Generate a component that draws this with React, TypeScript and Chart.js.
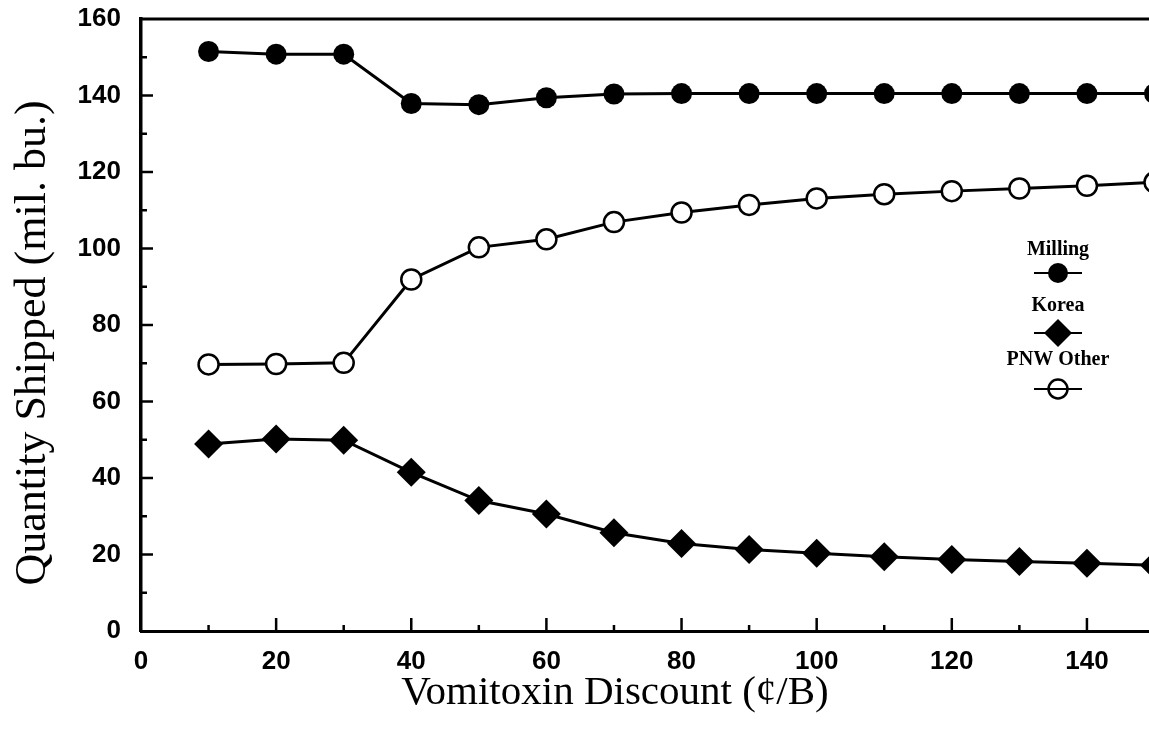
import React, { useEffect, useRef } from "react";
import { Chart, registerables } from "chart.js";

Chart.register(...registerables);

// ---- data ----
const discounts = [10, 20, 30, 40, 50, 60, 70, 80, 90, 100, 110, 120, 130, 140, 150];
const milling = [151.5, 150.8, 150.8, 137.9, 137.6, 139.4, 140.4, 140.5, 140.5, 140.5, 140.5, 140.5, 140.5, 140.5, 140.5];
const korea = [48.9, 50.2, 49.9, 41.5, 34.1, 30.6, 25.7, 22.9, 21.3, 20.3, 19.4, 18.7, 18.2, 17.7, 17.2];
const pnwOther = [69.7, 69.8, 70.1, 91.9, 100.3, 102.4, 106.9, 109.4, 111.4, 113.1, 114.2, 115.0, 115.7, 116.4, 117.3];

const seriesNames = ["Milling", "Korea", "PNW Other"];
const xTickLabels = [0, 20, 40, 60, 80, 100, 120, 140];
const xMinorTicks = [10, 30, 50, 70, 90, 110, 130];
const yTickLabels = [0, 20, 40, 60, 80, 100, 120, 140, 160];
const yMinorTicks = [10, 30, 50, 70, 90, 110, 130, 150];

const xTitle = "Vomitoxin Discount (¢/B)";
const yTitle = "Quantity Shipped (mil. bu.)";

const CANVAS_W = 1169;
const CANVAS_H = 730;

const decorPlugin = {
  id: "decor",
  afterDraw(chart: any) {
    const { ctx, chartArea: ca, scales } = chart;
    const xs = scales.x;
    const ys = scales.y;
    ctx.save();
    ctx.strokeStyle = "#000";
    ctx.fillStyle = "#000";
    // top frame line
    ctx.lineWidth = 3;
    ctx.beginPath();
    ctx.moveTo(ca.left - 1.5, ca.top);
    ctx.lineTo(CANVAS_W, ca.top);
    ctx.stroke();

    // inward ticks
    ctx.lineWidth = 2.5;
    const yTick = (v: number, len: number) => {
      const p = ys.getPixelForValue(v);
      ctx.beginPath();
      ctx.moveTo(ca.left, p);
      ctx.lineTo(ca.left + len, p);
      ctx.stroke();
    };
    const xTick = (v: number, len: number) => {
      const p = xs.getPixelForValue(v);
      ctx.beginPath();
      ctx.moveTo(p, ca.bottom);
      ctx.lineTo(p, ca.bottom - len);
      ctx.stroke();
    };
    yTickLabels.forEach((v) => v > 0 && v < 160 && yTick(v, 12));
    yMinorTicks.forEach((v) => yTick(v, 6));
    xTickLabels.forEach((v) => v > 0 && xTick(v, 13));
    xMinorTicks.forEach((v) => xTick(v, 6));

    // axis titles
    ctx.textAlign = "center";
    ctx.textBaseline = "middle";
    ctx.font = '41px "Liberation Serif", "Times New Roman", serif';
    ctx.fillText(xTitle, 615, 693);
    ctx.save();
    ctx.translate(33, 343);
    ctx.rotate(-Math.PI / 2);
    ctx.font = '44px "Liberation Serif", "Times New Roman", serif';
    ctx.fillText(yTitle, 0, 0);
    ctx.restore();

    // legend
    const cx = 1058;
    const rows = [
      { label: seriesNames[0], ty: 250, my: 273, style: "filled" },
      { label: seriesNames[1], ty: 306, my: 333, style: "diamond" },
      { label: seriesNames[2], ty: 360, my: 389, style: "open" },
    ];
    ctx.font = 'bold 20px "Liberation Serif", "Times New Roman", serif';
    rows.forEach((r) => {
      ctx.fillStyle = "#000";
      ctx.fillText(r.label, cx, r.ty);
      ctx.lineWidth = 2;
      ctx.beginPath();
      ctx.moveTo(cx - 24, r.my);
      ctx.lineTo(cx + 24, r.my);
      ctx.stroke();
      if (r.style === "filled") {
        ctx.beginPath();
        ctx.arc(cx, r.my, 10, 0, Math.PI * 2);
        ctx.fill();
      } else if (r.style === "diamond") {
        ctx.beginPath();
        ctx.moveTo(cx - 14, r.my);
        ctx.lineTo(cx, r.my - 14);
        ctx.lineTo(cx + 14, r.my);
        ctx.lineTo(cx, r.my + 14);
        ctx.closePath();
        ctx.fill();
      } else {
        ctx.beginPath();
        ctx.arc(cx, r.my, 9.5, 0, Math.PI * 2);
        ctx.fillStyle = "#fff";
        ctx.fill();
        ctx.lineWidth = 2.5;
        ctx.stroke();
        ctx.lineWidth = 2;
        ctx.beginPath();
        ctx.moveTo(cx - 9.5, r.my);
        ctx.lineTo(cx + 9.5, r.my);
        ctx.stroke();
      }
    });
    ctx.restore();
  },
};

export default function App() {
  const canvasRef = useRef<HTMLCanvasElement | null>(null);

  useEffect(() => {
    const canvas = canvasRef.current;
    if (!canvas) return;
    const toPts = (arr: number[]) => discounts.map((d, i) => ({ x: d, y: arr[i] }));
    const chart = new Chart(canvas, {
      type: "line",
      data: {
        datasets: [
          {
            label: seriesNames[0],
            data: toPts(milling),
            borderColor: "#000",
            borderWidth: 3,
            pointStyle: "circle",
            pointRadius: 10.5,
            pointBackgroundColor: "#000",
            pointBorderColor: "#000",
            pointBorderWidth: 0,
            tension: 0,
            clip: false as any,
          },
          {
            label: seriesNames[1],
            data: toPts(korea),
            borderColor: "#000",
            borderWidth: 3,
            pointStyle: "rectRot",
            pointRadius: 14.5,
            pointBackgroundColor: "#000",
            pointBorderColor: "#000",
            pointBorderWidth: 0,
            tension: 0,
            clip: false as any,
          },
          {
            label: seriesNames[2],
            data: toPts(pnwOther),
            borderColor: "#000",
            borderWidth: 3,
            pointStyle: "circle",
            pointRadius: 10,
            pointBackgroundColor: "#fff",
            pointBorderColor: "#000",
            pointBorderWidth: 2.5,
            tension: 0,
            clip: false as any,
          },
        ],
      },
      options: {
        animation: false,
        responsive: false,
        maintainAspectRatio: false,
        devicePixelRatio: 1,
        layout: { padding: { top: 19, right: 2, left: 0, bottom: 0 } },
        plugins: {
          legend: { display: false },
          tooltip: { enabled: false },
        },
        scales: {
          x: {
            type: "linear",
            min: 0,
            max: 150,
            afterBuildTicks: (s: any) => {
              s.ticks = xTickLabels.map((v) => ({ value: v }));
            },
            afterFit: (s: any) => {
              s.height = 99;
              s.paddingLeft = 0;
              s.paddingRight = 0;
            },
            grid: { display: false, drawTicks: false },
            border: { display: true, color: "#000", width: 3 },
            ticks: {
              color: "#000",
              padding: 15,
              font: { family: '"Liberation Sans", Arial, sans-serif', size: 26, weight: "bold" },
              maxRotation: 0,
            },
          },
          y: {
            type: "linear",
            min: 0,
            max: 160,
            afterBuildTicks: (s: any) => {
              s.ticks = yTickLabels.map((v) => ({ value: v }));
            },
            afterFit: (s: any) => {
              s.width = 141;
              s.paddingTop = 0;
              s.paddingBottom = 0;
            },
            grid: { display: false, drawTicks: false },
            border: { display: true, color: "#000", width: 3.5 },
            ticks: {
              color: "#000",
              padding: 20,
              font: { family: '"Liberation Sans", Arial, sans-serif', size: 26, weight: "bold" },
            },
          },
        },
      },
      plugins: [decorPlugin],
    });
    return () => chart.destroy();
  }, []);

  return (
    <div
      style={{
        position: "fixed",
        left: 0,
        top: 0,
        width: 1149,
        height: 730,
        overflow: "hidden",
        background: "#fff",
      }}
    >
      <canvas
        ref={canvasRef}
        width={CANVAS_W}
        height={CANVAS_H}
        style={{ width: CANVAS_W, height: CANVAS_H, display: "block" }}
      />
    </div>
  );
}
